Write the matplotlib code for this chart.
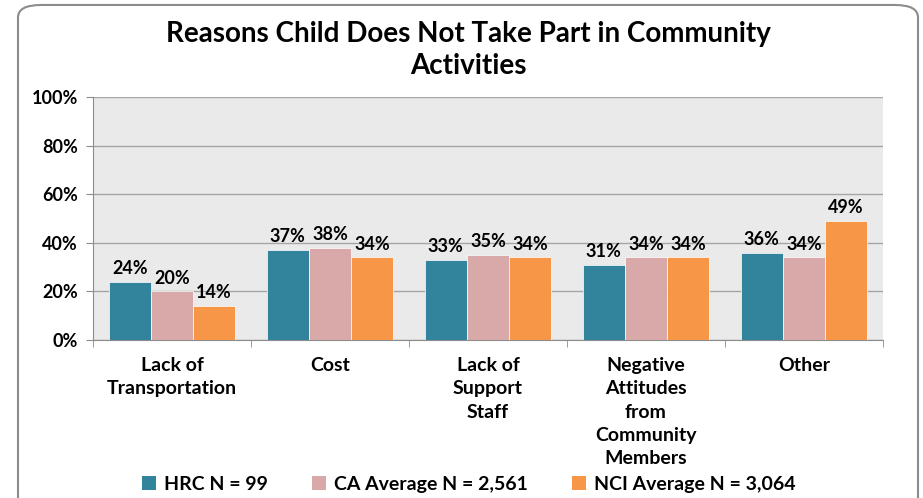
import numpy as np
import matplotlib.pyplot as plt
from matplotlib.patches import FancyBboxPatch, Patch

categories = ['Lack of\nTransportation', 'Cost', 'Lack of\nSupport\nStaff',
              'Negative\nAttitudes\nfrom\nCommunity\nMembers', 'Other']
hrc = [24, 37, 33, 31, 36]
ca = [20, 38, 35, 34, 34]
nci = [14, 34, 34, 34, 49]
series_names = ['HRC N = 99', 'CA Average N = 2,561', 'NCI Average N = 3,064']
colors = ['#31849B', '#D9A9A9', '#F79646']

plt.rcParams['font.family'] = ['Lato', 'DejaVu Sans']
plt.rcParams['font.weight'] = 'bold'

fig = plt.figure(figsize=(9.23, 4.98), dpi=100)
# rounded outer frame
frame = FancyBboxPatch((18 / 923, -0.05), 900 / 923, 1.04, boxstyle='round,pad=0,rounding_size=0.025',
                       transform=fig.transFigure, facecolor='none', edgecolor='#8C8C8C',
                       linewidth=1.5, zorder=-1)
fig.patches.append(frame)

ax = fig.add_axes([93 / 923, 1 - 340 / 498, 790 / 923, 243 / 498])
ax.set_facecolor('#EAEAEA')
x = np.arange(len(categories))
w = 0.267
for i, (vals, c) in enumerate(zip([hrc, ca, nci], colors)):
    pos = x + (i - 1) * w
    ax.bar(pos, vals, width=w, color=c, edgecolor='white', linewidth=0.5, zorder=3)
    for p, v in zip(pos, vals):
        ax.text(p, v + 2, f'{v}%', ha='center', va='bottom', fontsize=13, fontweight='bold', zorder=4)

ax.set_xlim(-0.5, len(categories) - 0.5)
ax.set_ylim(0, 100)
ax.set_yticks(range(0, 101, 20))
ax.set_yticklabels([f'{t}%' for t in range(0, 101, 20)], fontsize=13, fontweight='bold')
ax.yaxis.grid(True, color='#A6A6A6', linewidth=1, zorder=0)
ax.set_axisbelow(True)
ax.set_xticks(x)
ax.set_xticklabels(categories, fontsize=14, fontweight='bold', linespacing=1.46, va='top')
ax.set_xticks(np.arange(-0.5, len(categories)), minor=True)
ax.tick_params(axis='x', which='major', length=0, pad=12)
ax.tick_params(axis='x', which='minor', length=5, color='#8C8C8C')
ax.tick_params(axis='y', length=5, color='#8C8C8C', pad=6)
for s in ['top', 'right']:
    ax.spines[s].set_visible(False)
for s in ['left', 'bottom']:
    ax.spines[s].set_color('#8C8C8C')

fig.text(0.508, 0.932, 'Reasons Child Does Not Take Part in Community', ha='center', va='center',
         fontsize=20, fontweight='bold')
fig.text(0.508, 0.868, 'Activities', ha='center', va='center', fontsize=20, fontweight='bold')

handles = [Patch(facecolor=c, edgecolor='none') for c in colors]
fig.legend(handles, series_names, loc='center', bbox_to_anchor=(0.508, 0.028), ncol=3, frameon=False,
           fontsize=14, handlelength=0.7, handleheight=0.7, columnspacing=2.3, handletextpad=0.4)

fig.savefig('out.png', dpi=100)
